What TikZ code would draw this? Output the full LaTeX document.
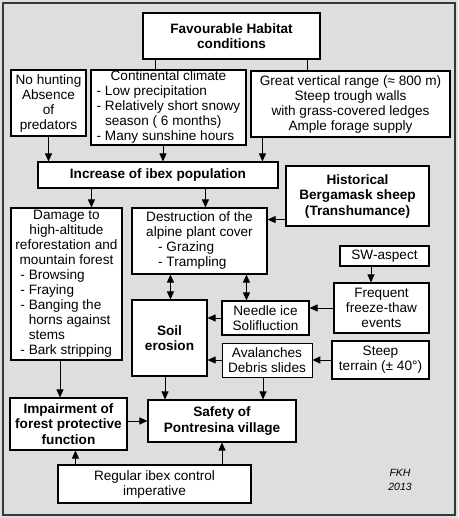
\documentclass[tikz,border=0pt]{standalone}
\usepackage{fontspec}
\setmainfont{Liberation Sans}
\usepackage{xcolor}
\usepackage{tikz}
\usetikzlibrary{arrows.meta}
\definecolor{paper}{RGB}{222,222,222}
\definecolor{frame}{RGB}{55,55,55}

\begin{document}
\begin{tikzpicture}[
    x=1pt, y=-1pt,
    box/.style={rectangle, draw, fill=white, line width=1.1pt, inner sep=0pt, align=center,
        font=\fontsize{13.6}{15}\selectfont},
    bbox/.style={box, font=\fontsize{13.6}{15.5}\selectfont\bfseries},
    arrow/.style={-{Triangle[length=8pt,width=7pt]}, line width=0.9pt},
    both/.style={{Triangle[length=8pt,width=7pt]}-{Triangle[length=8pt,width=7pt]}, line width=0.9pt}
]
\useasboundingbox (0,0) rectangle (458,518);
\fill[paper] (0,0) rectangle (458,518);
\draw[frame, line width=2pt] (3,3) rectangle (455,515);

\node[bbox, minimum width=177pt, minimum height=46pt] (habitat) at (231.5,36) {Favourable Habitat\\conditions};
\node[box, minimum width=75pt, minimum height=66pt] (hunting) at (48.5,103) {No hunting\\Absence\\of\\predators};
\node[box, minimum width=155pt, minimum height=75pt] (climate) at (168.5,107.5)
    {\begin{tabular}{@{}l@{}}\multicolumn{1}{@{}c@{}}{Continental climate}\\
     - Low precipitation\\- Relatively short snowy\\\phantom{- }season ( 6 months)\\- Many sunshine hours\end{tabular}};
\node[box, minimum width=199pt, minimum height=66pt] (range) at (350.5,104)
    {Great vertical range (≈ 800 m)\\Steep trough walls\\with grass-covered ledges\\Ample forage supply};
\node[bbox, minimum width=240pt, minimum height=26pt] (increase) at (158,175) {Increase of ibex population};
\node[bbox, minimum width=143pt, minimum height=60pt] (sheep) at (357.5,196) {Historical\\Bergamask sheep\\(Transhumance)};
\node[box, minimum width=111pt, minimum height=152pt] (damage) at (66.5,284)
    {\begin{tabular}{@{}l@{}}\multicolumn{1}{@{}c@{}}{Damage to}\\\multicolumn{1}{@{}c@{}}{high-altitude}\\
     \multicolumn{1}{@{}c@{}}{reforestation and}\\\multicolumn{1}{@{}c@{}}{mountain forest}\\
     \hspace*{5pt}- Browsing\\\hspace*{5pt}- Fraying\\\hspace*{5pt}- Banging the\\
     \hspace*{5pt}\phantom{- }horns against\\\hspace*{5pt}\phantom{- }stems\\\hspace*{5pt}- Bark stripping\end{tabular}};
\node[box, minimum width=135pt, minimum height=66pt] (destruction) at (199.5,241)
    {\begin{tabular}{@{}l@{}}\multicolumn{1}{@{}c@{}}{Destruction of the}\\\multicolumn{1}{@{}c@{}}{alpine plant cover}\\
     \hspace*{12pt}- Grazing\\\hspace*{12pt}- Trampling\end{tabular}};
\node[bbox, minimum width=75pt, minimum height=76pt] (soil) at (169.5,338) {Soil\\erosion};
\node[box, minimum width=87pt, minimum height=34pt] (needle) at (265.5,318) {Needle ice\\Solifluction};
\node[box, minimum width=90pt, minimum height=34pt, line width=0.7pt] (avalanche) at (267,360) {Avalanches\\Debris slides};
\node[box, minimum width=89pt, minimum height=20pt] (aspect) at (384.5,256) {SW-aspect};
\node[box, minimum width=95pt, minimum height=50pt] (freeze) at (381.5,308) {Frequent\\freeze-thaw\\events};
\node[box, minimum width=97pt, minimum height=38pt] (terrain) at (380.5,360) {Steep\\terrain (± 40°)};
\node[bbox, minimum width=148pt, minimum height=42pt] (safety) at (222,421) {Safety of\\Pontresina village};
\node[bbox, minimum width=117pt, minimum height=52pt] (impair) at (68.5,424) {Impairment of\\forest protective\\function};
\node[box, minimum width=193pt, minimum height=38pt] (control) at (154.5,484) {Regular ibex control\\imperative};
\node[align=center, font=\fontsize{10.5}{14}\selectfont\itshape] (sign) at (400,480) {FKH\\2013};

% habitat conditions
\draw[line width=0.9pt] ([xshift=13pt]habitat.south west) -- ([xshift=13pt]habitat.south west |- climate.north);
\draw[line width=0.9pt] ([xshift=-13pt]habitat.south east) -- ([xshift=-13pt]habitat.south east |- range.north);
\draw[arrow] (hunting.south) -- (hunting.south |- increase.north);
\draw[arrow] ([xshift=-5.5pt]climate.south) -- ([xshift=-5.5pt]climate.south |- increase.north);
\draw[arrow] ([xshift=12pt]range.south west) -- ([xshift=12pt]range.south west |- increase.north);

% consequences
\draw[arrow] ([xshift=54pt]increase.south west) -- ([xshift=54pt]increase.south west |- damage.north);
\draw[arrow] ([xshift=168pt]increase.south west) -- ([xshift=168pt]increase.south west |- destruction.north);
\draw[arrow] ([yshift=7pt]sheep.south west) -- ([yshift=7pt]sheep.south west -| destruction.east);
\draw[both] ([xshift=39pt]destruction.south west) -- ([xshift=39pt]destruction.south west |- soil.north);
\draw[both] ([xshift=115pt]destruction.south west) -- ([xshift=115pt]destruction.south west |- needle.north);
\draw[arrow] ([xshift=-13.5pt]aspect.south) -- ([xshift=-13.5pt]aspect.south |- freeze.north);
\draw[arrow] (freeze.west) -- (freeze.west -| needle.east);
\draw[arrow] (terrain.west) -- (terrain.west -| avalanche.east);
\draw[arrow] (needle.west) -- (needle.west -| soil.east);
\draw[arrow] (avalanche.west) -- (avalanche.west -| soil.east);

% safety
\draw[arrow] ([xshift=-4.5pt]soil.south) -- ([xshift=-4.5pt]soil.south |- safety.north);
\draw[arrow] ([xshift=-4pt]avalanche.south) -- ([xshift=-4pt]avalanche.south |- safety.north);
\draw[arrow] ([xshift=-6.5pt]damage.south) -- ([xshift=-6.5pt]damage.south |- impair.north);
\draw[arrow] (impair.east |- safety.west) -- (safety.west);
\draw[arrow] ([xshift=18pt]control.north west) -- ([xshift=18pt]control.north west |- impair.south);
\draw[arrow] (safety.south |- control.north) -- (safety.south);
\end{tikzpicture}
\end{document}
